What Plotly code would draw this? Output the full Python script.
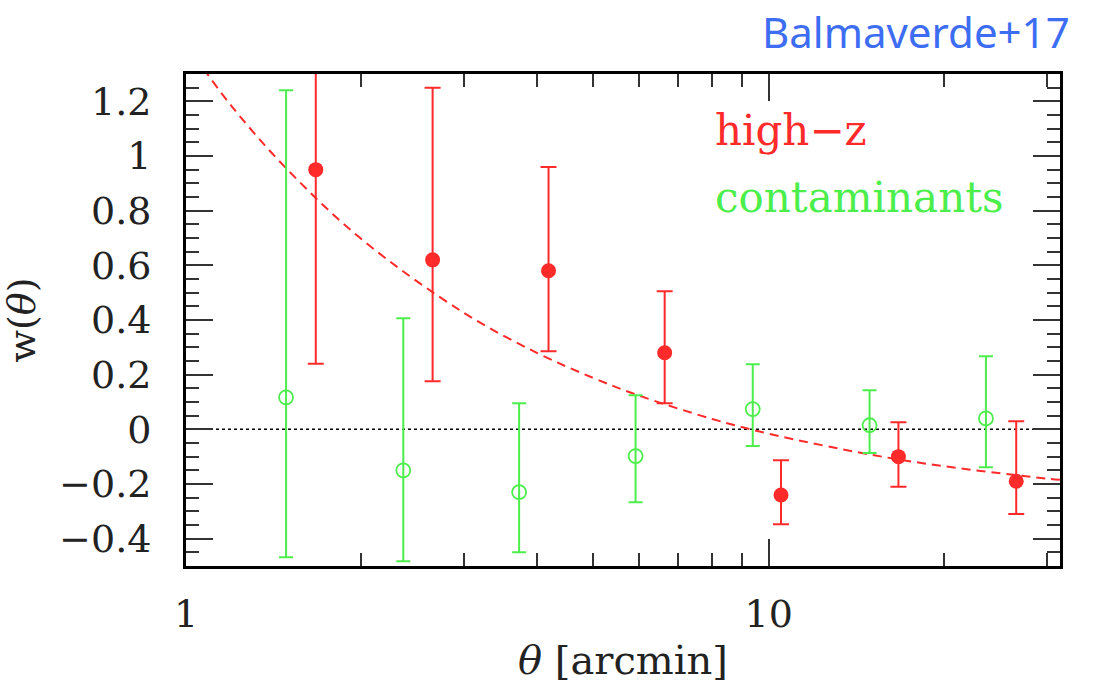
import plotly.graph_objects as go

# Angular correlation function w(theta) for the two samples
hz_theta = [1.67, 2.65, 4.19, 6.63, 10.5, 16.7, 26.6]
hz_w = [0.95, 0.62, 0.58, 0.28, -0.24, -0.10, -0.19]
hz_upper = [1.66, 1.25, 0.96, 0.505, -0.113, 0.026, 0.03]
hz_lower = [0.24, 0.176, 0.286, 0.095, -0.347, -0.21, -0.31]

ct_theta = [1.485, 2.36, 3.73, 5.91, 9.39, 14.9, 23.6]
ct_w = [0.117, -0.15, -0.23, -0.098, 0.074, 0.015, 0.04]
ct_upper = [1.241, 0.406, 0.095, 0.125, 0.238, 0.143, 0.267]
ct_lower = [-0.468, -0.483, -0.45, -0.267, -0.061, -0.087, -0.139]

# Power-law model curve for the high-z sample
model_theta = [1.0, 1.2, 1.5, 2, 3, 4, 5, 6, 8, 10, 15, 20, 30, 32]
model_w = [1.41, 1.18, 0.946, 0.696, 0.426, 0.28, 0.188, 0.123, 0.038,
           -0.016, -0.093, -0.135, -0.18, -0.185]

x_major = [1, 10]
x_minor = [2, 3, 4, 5, 6, 7, 8, 9, 20, 30]

RED = "#ff2a2a"
GREEN = "#4cee4c"
SERIF = "DejaVu Serif"
INK = "#222222"


def errs(vals, hi, lo):
    up = [h - v for h, v in zip(hi, vals)]
    dn = [v - l for v, l in zip(vals, lo)]
    return up, dn


hz_up, hz_dn = errs(hz_w, hz_upper, hz_lower)
ct_up, ct_dn = errs(ct_w, ct_upper, ct_lower)

fig = go.Figure()

fig.add_trace(go.Scatter(
    x=model_theta, y=model_w, mode="lines", line_shape="spline",
    line=dict(color=RED, width=2, dash="9px,6px"), hoverinfo="skip",
))

fig.add_trace(go.Scatter(
    x=ct_theta, y=ct_w, mode="markers",
    marker=dict(symbol="circle-open", size=14, color=GREEN, line=dict(width=1.8, color=GREEN)),
    error_y=dict(type="data", array=ct_up, arrayminus=ct_dn, color=GREEN, thickness=2, width=7),
))

fig.add_trace(go.Scatter(
    x=hz_theta, y=hz_w, mode="markers",
    marker=dict(symbol="circle", size=15, color=RED),
    error_y=dict(type="data", array=hz_up, arrayminus=hz_dn, color=RED, thickness=2, width=8),
))

# dotted zero line
fig.add_shape(type="line", xref="x domain", yref="y", x0=0, x1=1, y0=0, y1=0,
              line=dict(color="black", width=1.5, dash="dot"), layer="below")

fig.add_annotation(text="high\u2212z", xref="paper", yref="paper", x=0.603, y=0.886,
                   xanchor="left", yanchor="middle", showarrow=False,
                   font=dict(family=SERIF, size=42, color=RED))
fig.add_annotation(text="contaminants", xref="paper", yref="paper", x=0.603, y=0.748,
                   xanchor="left", yanchor="middle", showarrow=False,
                   font=dict(family=SERIF, size=42, color=GREEN))
fig.add_annotation(text="Balmaverde+17", xref="paper", yref="paper", x=1.014, y=1.087,
                   xanchor="right", yanchor="middle", showarrow=False,
                   font=dict(family="Noto Sans", size=42, color="#3d6df2"))

fig.update_layout(
    width=1095, height=683,
    margin=dict(l=186, r=35, t=74, b=117),
    paper_bgcolor="white", plot_bgcolor="white",
    showlegend=False,
    font=dict(family=SERIF, color=INK),
    xaxis=dict(
        type="log", range=[0, 1.5], automargin=False,
        tickvals=x_major, ticktext=[str(v) for v in x_major],
        ticks="inside", ticklen=27, tickwidth=2, tickcolor="#333",
        minor=dict(tickvals=x_minor, ticks="inside", ticklen=13, tickwidth=2,
                   tickcolor="#333", showgrid=False),
        showgrid=False, zeroline=False,
        showline=True, linecolor="black", linewidth=3, mirror="allticks",
        tickfont=dict(family=SERIF, size=38, color=INK),
        ticklabelstandoff=12,
        title=dict(text="<i>θ</i> [arcmin]", font=dict(family=SERIF, size=40, color=INK),
                   standoff=18),
    ),
    yaxis=dict(
        range=[-0.5, 1.3], dtick=0.2, tick0=0, automargin=False,
        ticks="inside", ticklen=27, tickwidth=2, tickcolor="#333",
        minor=dict(dtick=0.05, ticks="inside", ticklen=13, tickwidth=2,
                   tickcolor="#333", showgrid=False),
        showgrid=False, zeroline=False,
        showline=True, linecolor="black", linewidth=3, mirror="allticks",
        tickfont=dict(family=SERIF, size=38, color=INK),
        ticklabelstandoff=24,
        title=dict(text="w(<i>θ</i>)", font=dict(family=SERIF, size=38, color=INK),
                   standoff=16),
    ),
)

fig.write_html("out.html")
